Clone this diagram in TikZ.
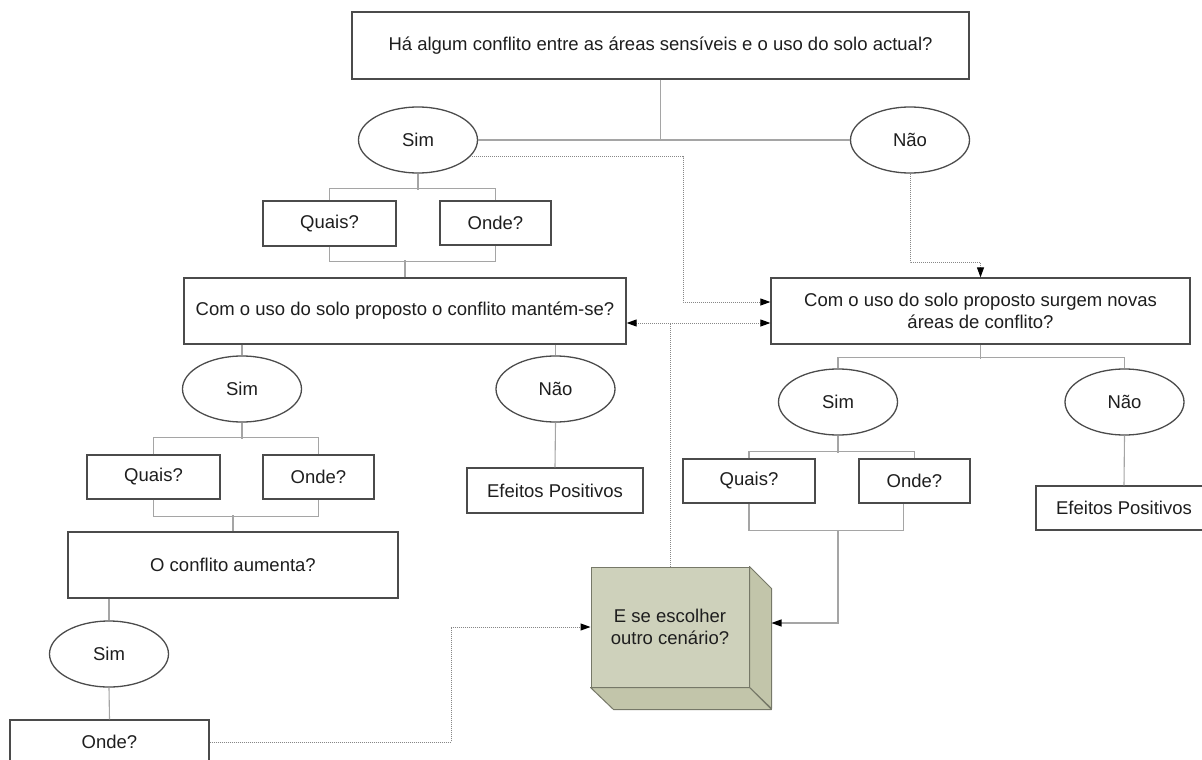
\documentclass[tikz,border=0pt]{standalone}
\usepackage{fontspec}
\setmainfont{Liberation Sans}
\usetikzlibrary{arrows.meta,shapes.geometric,calc}

\definecolor{boxline}{RGB}{75,75,75}
\definecolor{treeline}{RGB}{165,165,165}
\definecolor{dotline}{RGB}{135,135,135}
\definecolor{cubefront}{RGB}{206,209,187}
\definecolor{cubeside}{RGB}{194,197,170}
\definecolor{cubeedge}{RGB}{118,120,104}
\definecolor{txt}{RGB}{30,30,30}

\begin{document}
\begin{tikzpicture}[x=1pt,y=-1pt,
  every node/.style={font=\fontsize{18.5}{22}\selectfont, text=txt},
  qbox/.style={draw=boxline, line width=1.3pt, fill=white, inner sep=0pt},
  answer/.style={ellipse, draw=boxline, line width=1.3pt, fill=white,
    minimum width=119pt, minimum height=66pt, inner sep=0pt},
  tree/.style={draw=treeline, line width=1.1pt},
  link/.style={draw=dotline, line width=1pt, densely dotted},
  tip/.style={-{Triangle[length=10pt,width=7pt,color=black]}},
  tips/.style={{Triangle[length=10pt,width=7pt,color=black]}-{Triangle[length=10pt,width=7pt,color=black]}},
]
\useasboundingbox (0,0) rectangle (1202,760);

% first question and its answers
\node[qbox, minimum width=617pt, minimum height=67pt] (top) at (660.5,45.5)
  {Há algum conflito entre as áreas sensíveis e o uso do solo actual?};
\node[answer] (sim1) at (418,140) {Sim};
\node[answer] (nao1) at (910,140) {Não};
\node[qbox, minimum width=133pt, minimum height=45pt] (quais1) at (329.5,223.5) {Quais?};
\node[qbox, minimum width=111pt, minimum height=44pt] (onde1) at (495.5,223) {Onde?};

% left branch
\node[qbox, minimum width=442pt, minimum height=66pt] (m1) at (405,311)
  {Com o uso do solo proposto o conflito mantém-se?};
\node[answer] (sim2) at (242,389) {Sim};
\node[answer] (nao2) at (555.5,389) {Não};
\node[qbox, minimum width=133pt, minimum height=44pt] (quais2) at (153.5,477) {Quais?};
\node[qbox, minimum width=111pt, minimum height=44pt] (onde2) at (318.5,477) {Onde?};
\node[qbox, minimum width=176pt, minimum height=45pt] (ef1) at (555,490.5) {Efeitos Positivos};
\node[qbox, minimum width=330pt, minimum height=66pt] (aum) at (233,565) {O conflito aumenta?};
\node[answer] (sim3) at (109,654) {Sim};
\node[qbox, minimum width=199pt, minimum height=44pt] (onde3) at (109.5,742) {Onde?};

% right branch
\node[qbox, minimum width=419pt, minimum height=66pt, align=center] (r) at (980.5,311)
  {Com o uso do solo proposto surgem novas\\áreas de conflito?};
\node[answer] (sim4) at (838,402) {Sim};
\node[answer] (nao3) at (1124.5,402) {Não};
\node[qbox, minimum width=132pt, minimum height=44pt] (quais4) at (749,481) {Quais?};
\node[qbox, minimum width=111pt, minimum height=44pt] (onde4) at (914.5,481) {Onde?};
\node[qbox, minimum width=176pt, minimum height=44pt] (ef2) at (1124,508) {Efeitos Positivos};

% the block with its two visible side faces
\node[draw=cubeedge, fill=cubefront, line width=1pt, minimum width=158pt,
  minimum height=120pt, align=center, inner sep=0pt] (cube) at (670,627)
  {E se escolher\\outro cenário?};
\draw[draw=cubeedge, fill=cubeside, line width=1pt, line join=round]
  (cube.north east) -- ++(22,22) -- ++(0,120) -- (cube.south east) -- cycle;
\draw[draw=cubeedge, fill=cubeside, line width=1pt, line join=round]
  (cube.south west) -- (cube.south east) -- ++(22,22) -- ++(-158,0) -- cycle;

% tree connectors
\draw[tree] (top.south) -- (top.south |- sim1.east);
\draw[tree] (sim1.east) -- (nao1.west);
\draw[tree] (sim1.south) -- ++(0,16);
\draw[tree] (quais1.north) -- ++(0,-12) -| (onde1.north);
\draw[tree] (quais1.south) -- ++(0,15) -| (onde1.south);
\draw[tree] (m1.north) -- ++(0,-17);

\draw[tree] (m1.south -| sim2.north) -- (sim2.north);
\draw[tree] (m1.south -| nao2.north) -- (nao2.north);
\draw[tree] (sim2.south) -- ++(0,16);
\draw[tree] (quais2.north) -- ++(0,-17) -| (onde2.north);
\draw[tree] (quais2.south) -- ++(0,17) -| (onde2.south);
\draw[tree] (aum.north) -- ++(0,-16);
\draw[tree] (nao2.south) -- (ef1.north);
\draw[tree] (aum.south -| sim3.north) -- (sim3.north);
\draw[tree] (sim3.south) -- (onde3.north);

\draw[tree] (r.south) -- ++(0,14);
\draw[tree] (sim4.north) -- ++(0,-11) -| (nao3.north);
\draw[tree] (sim4.south) -- ++(0,17);
\draw[tree] (quais4.north) -- ++(0,-7) -| (onde4.north);
\draw[tree] (quais4.south) -- ++(0,27) -| ([xshift=-11pt]onde4.south);
\draw[tree] (nao3.south) -- (ef2.north);

% into the block from the right-hand branch
\coordinate (rb) at ($(sim4.south |- quais4.south)+(0,27)$);
\coordinate (cuberight) at ($(cube.east)+(22,-4)$);
\draw[tree, tip] (rb) |- (cuberight);

% dotted links
\coordinate (bendA) at (683,302);
\draw[link, tip] (sim1.-18) -| (bendA) -- ($(r.west)+(0,-9)$);
\draw[link, tip] (nao1.south) -- ++(0,89) -| (r.north);
\coordinate (ml) at ($(m1.east)+(0,12)$);
\coordinate (rl) at ($(r.west)+(0,12)$);
\draw[link, tips] (ml) -- (rl);
\draw[link] (cube.north) -- (cube.north |- ml);
\coordinate (bendC) at (451,627);
\draw[link, tip] (onde3.east) -| (bendC) -- (cube.west);
\end{tikzpicture}
\end{document}
